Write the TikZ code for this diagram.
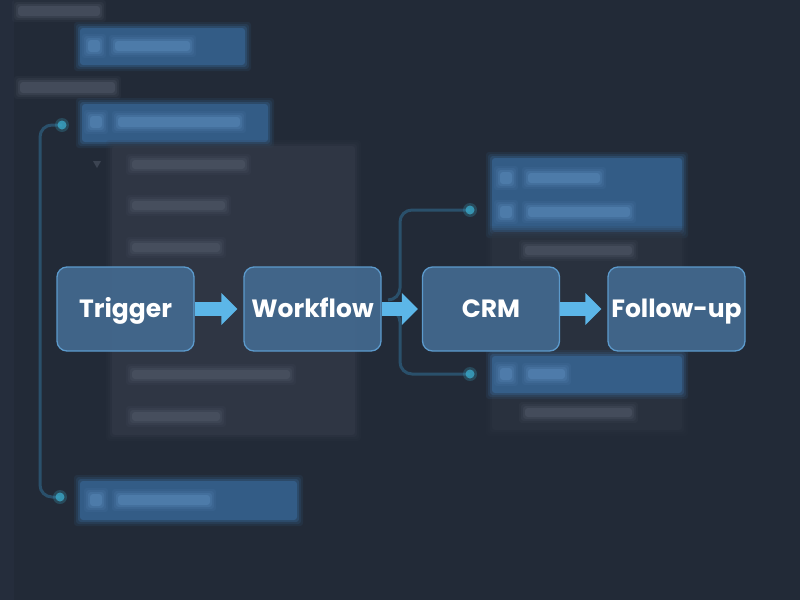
\documentclass[tikz,border=0pt]{standalone}
\usepackage{fontspec}
\setmainfont{Poppins}
\usetikzlibrary{arrows.meta}
\definecolor{bgc}{HTML}{222A37}
\definecolor{stripc}{HTML}{283040}
\definecolor{panelc}{HTML}{343B49}
\definecolor{panelb}{HTML}{2C3441}
\definecolor{linec}{HTML}{4E5665}
\definecolor{barc}{HTML}{3A6C9F}
\definecolor{barhi}{HTML}{5685B5}
\definecolor{dotc}{HTML}{3AA6C6}
\definecolor{wirec}{HTML}{2D5A78}
\definecolor{nodefill}{HTML}{43698F}
\definecolor{nodeborder}{HTML}{5C9ACC}
\definecolor{arrowc}{HTML}{5CB6E8}
\newcommand{\softrect}[5]{%
  \foreach \e/\o in {6/0.12,4/0.18,2/0.3,0/0.55}{%
    \fill[#5,opacity=\o,rounded corners=3pt] (#1-\e,#2-\e) rectangle (#3+\e,#4+\e);}}
\tikzset{
  flowbox/.style={draw=nodeborder, line width=1.3pt, fill=nodefill, fill opacity=0.92,
    text opacity=1, rounded corners=10pt, minimum width=137pt, minimum height=84pt,
    inner sep=0pt, text=white, text height=17.5pt, text depth=0pt,
    font=\fontsize{25}{28}\selectfont\bfseries},
  flowarrow/.style={draw=arrowc, line width=14pt,
    -{Triangle[length=16pt,width=31pt]}, arrowc},
  wire/.style={draw=wirec, line width=3pt, opacity=0.8, rounded corners=12pt},
}
\begin{document}
\begin{tikzpicture}[x=1pt,y=-1pt]
\fill[bgc] (0,0) rectangle (800,600);
\useasboundingbox (0,0) rectangle (800,600);
% left strip
\fill[stripc,opacity=0.6] (0,0) rectangle (14,600);
% labels
\softrect{18}{6}{100}{16}{linec}
\softrect{20}{82}{115}{93}{linec}
% top-left blue bars
\softrect{80}{28}{245}{65}{barc}
\softrect{88}{40}{100}{52}{barhi}
\softrect{115}{41}{190}{51}{barhi}
\softrect{82}{104}{268}{142}{barc}
\softrect{90}{116}{102}{128}{barhi}
\softrect{118}{117}{240}{127}{barhi}
% grey panel
\softrect{112}{146}{355}{435}{panelc}
\fill[linec,opacity=0.6] (93,161) -- (101,161) -- (97,168) -- cycle;
\softrect{132}{160}{245}{169}{linec}
\softrect{132}{201}{225}{210}{linec}
\softrect{132}{243}{220}{252}{linec}
\softrect{132}{370}{290}{379}{linec}
\softrect{132}{412}{220}{421}{linec}
% bottom-left blue bar
\softrect{80}{481}{297}{520}{barc}
\softrect{90}{494}{102}{506}{barhi}
\softrect{118}{495}{210}{505}{barhi}
% left wire
\draw[wire] (62,125) -- (40,125) -- (40,497) -- (60,497);
\foreach \p in {(62,125),(60,497)}{
  \fill[dotc,opacity=0.25] \p circle (7);
  \fill[dotc,opacity=0.8] \p circle (4.5);}
% right panels
\softrect{492}{158}{682}{232}{barc}
\softrect{500}{172}{512}{184}{barhi}
\softrect{528}{173}{600}{183}{barhi}
\softrect{500}{206}{512}{218}{barhi}
\softrect{528}{207}{630}{217}{barhi}
\softrect{492}{232}{682}{430}{panelb}
\softrect{525}{246}{632}{255}{linec}
\softrect{492}{356}{682}{393}{barc}
\softrect{500}{368}{512}{380}{barhi}
\softrect{528}{369}{565}{379}{barhi}
\softrect{525}{408}{632}{417}{linec}
% right wires
\draw[wire] (388,300) -- (400,300) -- (400,210) -- (470,210);
\draw[wire] (388,310) -- (400,310) -- (400,374) -- (470,374);
\foreach \p in {(470,210),(470,374)}{
  \fill[dotc,opacity=0.25] \p circle (7);
  \fill[dotc,opacity=0.8] \p circle (4.5);}
% main flow
\node[flowbox] (trigger)  at (125.5,309) {Trigger};
\node[flowbox] (workflow) at (312.5,309) {Workflow};
\node[flowbox] (crm)      at (491,309)   {CRM};
\node[flowbox] (followup) at (676.5,309) {Follow-up};
\draw[flowarrow] (trigger.east) -- ([xshift=-6pt]workflow.west);
\draw[flowarrow] (workflow.east) -- ([xshift=-4pt]crm.west);
\draw[flowarrow] (crm.east) -- ([xshift=-6pt]followup.west);
\end{tikzpicture}
\end{document}
